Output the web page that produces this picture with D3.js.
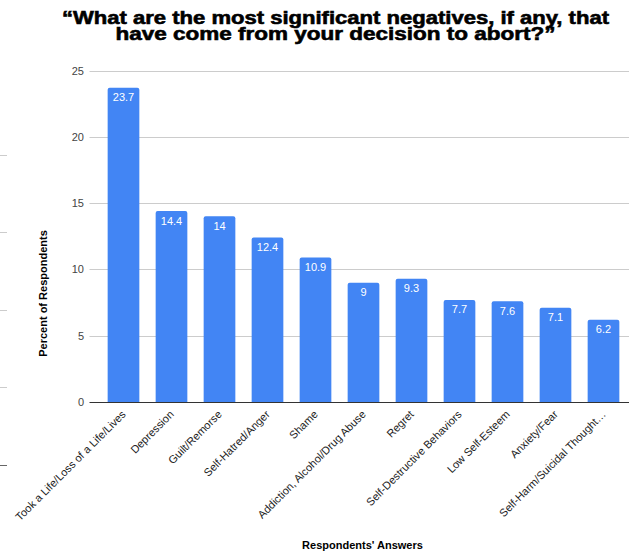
<!DOCTYPE html>
<html>
<head>
<meta charset="utf-8">
<script src="https://cdn.jsdelivr.net/npm/d3@7"></script>
<style>
  html, body { margin: 0; padding: 0; background: #fff; }
  svg { display: block; font-family: "Liberation Sans", Arial, sans-serif; }
</style>
</head>
<body>
<svg id="chart" width="629" height="554"></svg>
<script>
const categories = [
  "Took a Life/Loss of a Life/Lives",
  "Depression",
  "Guilt/Remorse",
  "Self-Hatred/Anger",
  "Shame",
  "Addiction, Alcohol/Drug Abuse",
  "Regret",
  "Self-Destructive Behaviors",
  "Low Self-Esteem",
  "Anxiety/Fear",
  "Self-Harm/Suicidal Thought…"
];
const values = [23.7, 14.4, 14, 12.4, 10.9, 9, 9.3, 7.7, 7.6, 7.1, 6.2];
const valueLabels = ["23.7", "14.4", "14", "12.4", "10.9", "9", "9.3", "7.7", "7.6", "7.1", "6.2"];
const yTicks = [0, 5, 10, 15, 20, 25];
const titleLines = [
  "\u201CWhat are the most significant negatives, if any, that",
  "have come from your decision to abort?\u201D"
];
const yTitle = "Percent of Respondents";
const xTitle = "Respondents' Answers";
// stray tick marks along the left edge (from a neighbouring chart)
const edgeMarks = [0, 1, 2, 3, 4];

const W = 629, H = 554;
const svg = d3.select("#chart");
svg.append("rect").attr("width", W).attr("height", H).attr("fill", "#fff");

const y = d3.scaleLinear().domain([0, 25]).range([402, 70.5]);
const x = d3.scaleBand().domain(categories).range([99.5, 627.5])
  .paddingInner(0.34).paddingOuter(0.17);

// edge marks
const edgeY = d3.scaleLinear().domain([0, 4]).range([464.7, 155]);
svg.append("g").selectAll("line").data(edgeMarks).join("line")
  .attr("x1", 0).attr("x2", 7)
  .attr("y1", d => Math.round(edgeY(d)) + 0.5).attr("y2", d => Math.round(edgeY(d)) + 0.5)
  .attr("stroke", d => d === 0 ? "#666" : "#ccc").attr("stroke-width", 1);

// gridlines
const grid = svg.append("g");
grid.selectAll("line").data(yTicks.filter(d => d !== 0)).join("line")
  .attr("x1", 89.5).attr("x2", W)
  .attr("y1", d => Math.round(y(d)) + 0.5).attr("y2", d => Math.round(y(d)) + 0.5)
  .attr("stroke", "#cccccc").attr("stroke-width", 1);

// y tick labels via axis
const yAxis = svg.append("g").attr("transform", "translate(89,0)")
  .call(d3.axisLeft(y).tickValues(yTicks).tickSize(0).tickPadding(5).tickFormat(d3.format("d")));
yAxis.select(".domain").remove();
yAxis.selectAll("text")
  .attr("font-family", "Liberation Sans, Arial, sans-serif")
  .attr("font-size", 11).attr("fill", "#444");

// bars with rounded top corners
const r = 2;
function barPath(d, i) {
  const x0 = x(categories[i]), w = x.bandwidth();
  const yt = y(d), yb = y(0);
  return `M${x0},${yb}L${x0},${yt + r}Q${x0},${yt} ${x0 + r},${yt}` +
         `L${x0 + w - r},${yt}Q${x0 + w},${yt} ${x0 + w},${yt + r}L${x0 + w},${yb}Z`;
}
svg.append("g").selectAll("path").data(values).join("path")
  .attr("d", barPath)
  .attr("fill", "#4285f4");

// value labels
svg.append("g").selectAll("text").data(values).join("text")
  .attr("x", (d, i) => x(categories[i]) + x.bandwidth() / 2)
  .attr("y", d => y(d) + 13.5)
  .attr("text-anchor", "middle")
  .attr("font-size", 11)
  .attr("fill", "#fff")
  .text((d, i) => valueLabels[i]);

// zero baseline
svg.append("line")
  .attr("x1", 89.5).attr("x2", W)
  .attr("y1", Math.round(y(0)) + 0.5).attr("y2", Math.round(y(0)) + 0.5)
  .attr("stroke", "#333").attr("stroke-width", 1);

// x labels rotated
svg.append("g").selectAll("text").data(categories).join("text")
  .attr("transform", d => `translate(${x(d) + x.bandwidth() / 2 + 3},${415}) rotate(-45)`)
  .attr("text-anchor", "end")
  .attr("font-size", 11)
  .attr("fill", "#222")
  .text(d => d);

// title
const titleWidths = [547, 440];
svg.append("g").selectAll("text").data(titleLines).join("text")
  .attr("x", 335.5)
  .attr("y", (d, i) => 23.5 + i * 16.5)
  .attr("text-anchor", "middle")
  .attr("font-size", 18.5)
  .attr("font-weight", "bold")
  .attr("fill", "#000")
  .attr("stroke", "#000")
  .attr("stroke-width", 0.6)
  .attr("textLength", (d, i) => titleWidths[i])
  .attr("lengthAdjust", "spacingAndGlyphs")
  .text(d => d);

// axis titles
svg.append("text")
  .attr("transform", "translate(47,293.5) rotate(-90)")
  .attr("text-anchor", "middle")
  .attr("font-size", 11).attr("font-weight", "bold").attr("fill", "#000")
  .text(yTitle);

svg.append("text")
  .attr("x", 362.5).attr("y", 549)
  .attr("text-anchor", "middle")
  .attr("font-size", 11).attr("font-weight", "bold").attr("fill", "#000")
  .text(xTitle);
</script>
</body>
</html>
